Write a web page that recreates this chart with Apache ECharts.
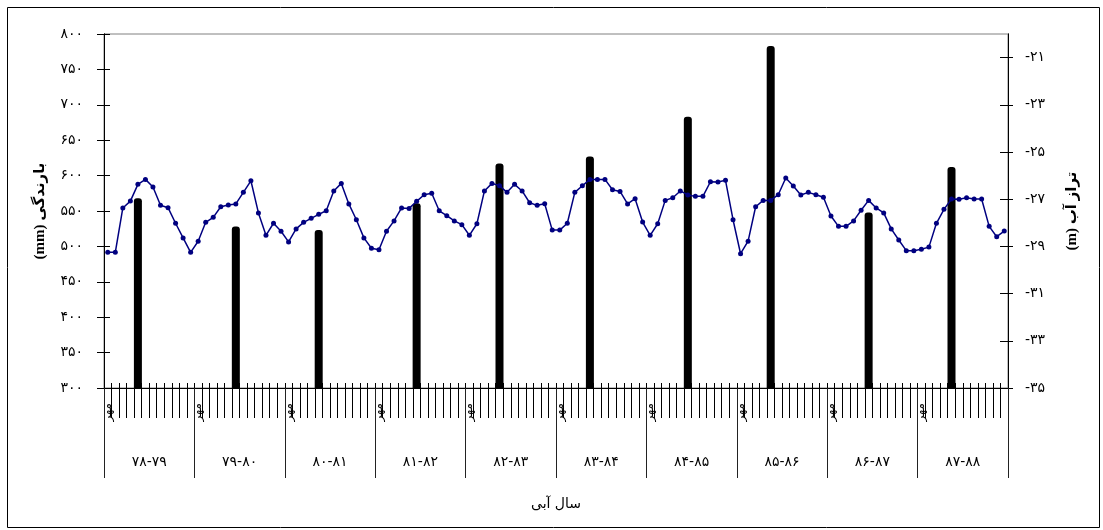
<!DOCTYPE html>
<html>
<head>
<meta charset="utf-8">
<script src="https://cdn.jsdelivr.net/npm/echarts@6/dist/echarts.min.js"></script>
<style>
  html, body { margin: 0; padding: 0; background: #fff; }
  #chart { width: 1103px; height: 530px; }
</style>
</head>
<body>
<div id="chart"></div>
<script>
// Water years (Persian calendar) and the months of a water year
const waterYears = ['۷۸-۷۹', '۷۹-۸۰', '۸۰-۸۱', '۸۱-۸۲', '۸۲-۸۳', '۸۳-۸۴', '۸۴-۸۵', '۸۵-۸۶', '۸۶-۸۷', '۸۷-۸۸'];
const months = ['مهر', 'آبان', 'آذر', 'دی', 'بهمن', 'اسفند', 'فروردین', 'اردیبهشت', 'خرداد', 'تیر', 'مرداد', 'شهریور'];

// Monthly groundwater level (m), one row per water year
const waterLevel = [
  -29.25, -29.25, -27.37, -27.08, -26.37, -26.16, -26.48, -27.26, -27.36, -28.02, -28.64, -29.25,
  -28.78, -27.98, -27.77, -27.32, -27.25, -27.20, -26.71, -26.22, -27.58, -28.53, -28.02, -28.36,
  -28.81, -28.26, -27.98, -27.81, -27.64, -27.49, -26.65, -26.33, -27.20, -27.87, -28.64, -29.08,
  -29.14, -28.36, -27.92, -27.37, -27.39, -27.09, -26.81, -26.75, -27.49, -27.70, -27.92, -28.08,
  -28.53, -28.04, -26.65, -26.33, -26.43, -26.71, -26.37, -26.65, -27.15, -27.26, -27.19, -28.31,
  -28.31, -28.02, -26.71, -26.43, -26.16, -26.16, -26.16, -26.60, -26.67, -27.20, -26.98, -27.97,
  -28.53, -28.04, -27.05, -26.94, -26.65, -26.82, -26.88, -26.88, -26.26, -26.27, -26.20, -27.87,
  -29.31, -28.78, -27.32, -27.05, -27.05, -26.81, -26.10, -26.44, -26.82, -26.71, -26.81, -26.92,
  -27.71, -28.15, -28.15, -27.92, -27.47, -27.05, -27.37, -27.58, -28.26, -28.73, -29.18, -29.18,
  -29.12, -29.03, -28.02, -27.43, -26.99, -27.00, -26.94, -26.99, -26.99, -28.15, -28.59, -28.35
];

// Annual precipitation (mm) and the month of the year where each bar stands
const annualRain = [568, 528, 523, 561, 617, 627, 683, 783, 548, 612];
const rainMonth = [4, 5, 4, 5, 4, 4, 5, 4, 5, 4];

// Right-axis tick values
const levelTicks = [-35, -33, -31, -29, -27, -25, -23, -21];

const faDigits = '۰۱۲۳۴۵۶۷۸۹';
const toFa = v => String(v).replace(/\d/g, d => faDigits[+d]);

// One category per month: "year|month"
const monthCats = [];
waterYears.forEach(y => months.forEach(m => monthCats.push(y + '|' + m)));

// Bars sit on a single month of each water year
const rainSeries = monthCats.map(() => null);
annualRain.forEach((v, i) => { rainSeries[i * 12 + rainMonth[i]] = v; });

const FONT = 'DejaVu Sans';
const TITLE_FONT = 'Liberation Serif, DejaVu Sans';
const chart = echarts.init(document.getElementById('chart'), null, { renderer: 'canvas' });

chart.setOption({
  animation: false,
  backgroundColor: '#fff',
  textStyle: { fontFamily: FONT, color: '#000' },
  graphic: [{
    type: 'rect',
    shape: { x: 7.5, y: 7.5, width: 1092, height: 520 },
    style: { fill: 'none', stroke: '#000', lineWidth: 1 },
    silent: true,
    z: -1
  }],
  grid: {
    left: 104, right: 95, top: 34, bottom: 142,
    show: true, borderColor: '#808080', borderWidth: 1, backgroundColor: 'transparent'
  },
  xAxis: [
    {
      type: 'category', data: monthCats, position: 'bottom', boundaryGap: true,
      axisLine: { show: true, lineStyle: { color: '#000', width: 1 } },
      axisTick: { show: true, interval: 0, length: 30, lineStyle: { color: '#000', width: 1 } },
      axisLabel: {
        show: true, interval: (i) => i % 12 === 0, rotate: 90, margin: 15,
        fontSize: 12, color: '#000', fontFamily: FONT,
        formatter: v => v.split('|')[1]
      },
      splitLine: { show: false }
    },
    {
      type: 'category', data: monthCats, position: 'bottom', boundaryGap: true,
      axisLine: { show: true, lineStyle: { color: '#000', width: 1 } },
      axisTick: { show: true, interval: 0, inside: true, length: 5, lineStyle: { color: '#000', width: 1 } },
      axisLabel: { show: false },
      splitLine: { show: false }
    },
    {
      type: 'category', data: waterYears, position: 'bottom', boundaryGap: true,
      axisLine: { show: true, lineStyle: { color: '#000', width: 1 } },
      axisTick: { show: true, interval: 0, length: 90, lineStyle: { color: '#222', width: 1 } },
      axisLabel: { show: true, interval: 0, margin: 67, fontSize: 14, color: '#000', fontFamily: FONT },
      name: 'سال آبی', nameLocation: 'middle', nameGap: 109,
      nameTextStyle: { fontSize: 14, color: '#000', fontFamily: FONT },
      splitLine: { show: false }
    }
  ],
  yAxis: [
    {
      type: 'value', position: 'left', min: 300, max: 800, interval: 50,
      axisLine: { show: true, lineStyle: { color: '#000', width: 1 } },
      axisTick: { show: true, length: 7, lineStyle: { color: '#000' } },
      axisLabel: { formatter: v => toFa(v), margin: 21, fontSize: 14, color: '#000', fontFamily: FONT },
      splitLine: { show: false },
      name: '(mm) بارندگی', nameLocation: 'middle', nameRotate: 90, nameGap: 56,
      nameTextStyle: { fontSize: 15, fontWeight: 'bold', color: '#000', fontFamily: TITLE_FONT }
    },
    {
      type: 'value', position: 'right', min: -35, max: -20,
      axisLine: { show: true, lineStyle: { color: '#000', width: 1 } },
      axisTick: { show: true, length: 5, customValues: levelTicks, lineStyle: { color: '#000' } },
      axisLabel: {
        customValues: levelTicks, margin: 17, fontSize: 14, color: '#000', fontFamily: FONT,
        formatter: v => '-' + toFa(Math.abs(v))
      },
      splitLine: { show: false },
      name: '(m) تراز آب', nameLocation: 'middle', nameRotate: 90, nameGap: 57,
      nameTextStyle: { fontSize: 15, fontWeight: 'bold', color: '#000', fontFamily: TITLE_FONT }
    },
    {
      type: 'value', position: 'left', min: 300, max: 800, interval: 50,
      axisLine: { show: true, lineStyle: { color: '#000', width: 1 } },
      axisTick: { show: true, inside: true, length: 6, lineStyle: { color: '#000' } },
      axisLabel: { show: false },
      splitLine: { show: false }
    },
    {
      type: 'value', position: 'right', min: -35, max: -20,
      axisLine: { show: true, lineStyle: { color: '#000', width: 1 } },
      axisTick: { show: true, inside: true, length: 8, customValues: levelTicks, lineStyle: { color: '#000' } },
      axisLabel: { show: false, customValues: levelTicks },
      splitLine: { show: false }
    }
  ],
  series: [
    {
      name: 'بارندگی', type: 'bar', xAxisIndex: 0, yAxisIndex: 0,
      data: rainSeries, barWidth: 8,
      itemStyle: { color: '#000', borderRadius: [3, 3, 0, 0] }
    },
    {
      name: 'تراز آب', type: 'line', xAxisIndex: 0, yAxisIndex: 1,
      data: waterLevel, symbol: 'circle', symbolSize: 5, showSymbol: true,
      lineStyle: { color: '#000080', width: 1.5 },
      itemStyle: { color: '#000080' }
    }
  ]
});
</script>
</body>
</html>
